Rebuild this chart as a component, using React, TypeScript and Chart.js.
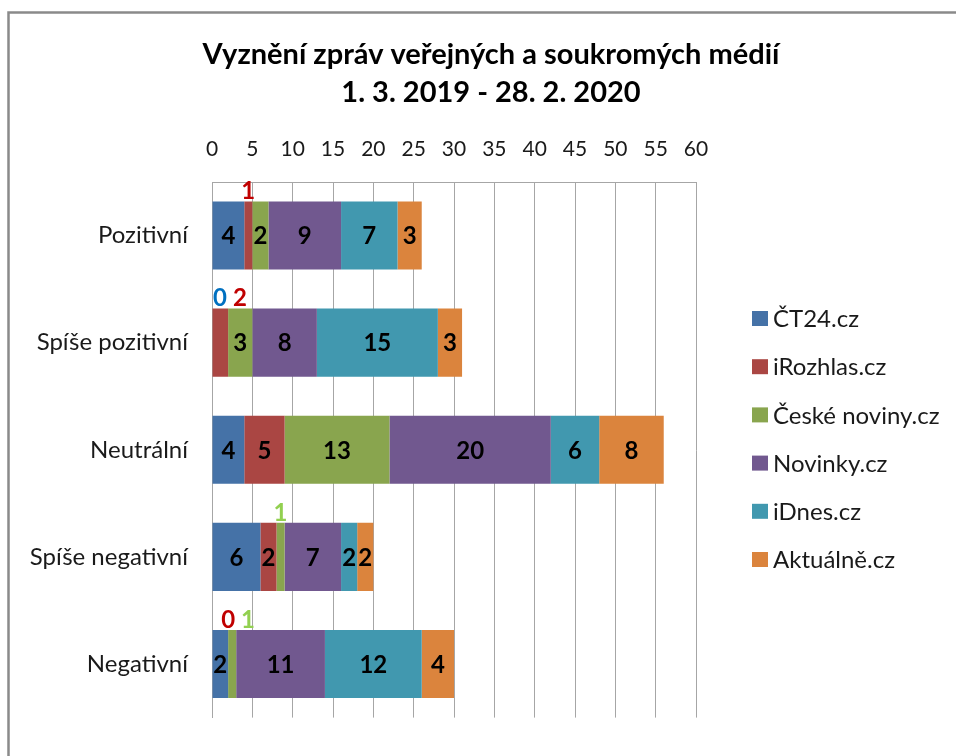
import React, { useEffect, useRef } from "react";
import { Chart, registerables } from "chart.js";

Chart.register(...registerables);

const titleLines = ["Vyznění zpráv veřejných a soukromých médií", "1. 3. 2019 - 28. 2. 2020"];
const categories = ["Pozitivní", "Spíše pozitivní", "Neutrální", "Spíše negativní", "Negativní"];
const seriesNames = ["ČT24.cz", "iRozhlas.cz", "České noviny.cz", "Novinky.cz", "iDnes.cz", "Aktuálně.cz"];
const ct24 = [4, 0, 4, 6, 2];
const iRozhlas = [1, 2, 5, 2, 0];
const ceskeNoviny = [2, 3, 13, 1, 1];
const novinky = [9, 8, 20, 7, 11];
const iDnes = [7, 15, 6, 2, 12];
const aktualne = [3, 3, 8, 2, 4];
const seriesValues = [ct24, iRozhlas, ceskeNoviny, novinky, iDnes, aktualne];
const axisMin = 0;
const axisMax = 60;
const axisStep = 5;

const seriesColors = ["#4572A7", "#AA4643", "#89A54E", "#71588F", "#4198AF", "#DB843D"];
const aboveLabelColors = ["#0070C0", "#C00000", "#92D050", "#7030A0", "#31849B", "#E46C0A"];
// value labels drawn above the bar instead of inside: [seriesIndex, categoryIndex]
const labelsAbove = [
  [1, 0],
  [0, 1],
  [1, 1],
  [2, 3],
  [1, 4],
  [2, 4],
];

const FONT = "Lato, 'Open Sans', sans-serif";

const decorPlugin = {
  id: "decor",
  beforeDraw(chart: any) {
    const ctx = chart.ctx as CanvasRenderingContext2D;
    ctx.save();
    ctx.fillStyle = "#ffffff";
    ctx.fillRect(0, 0, chart.width, chart.height);
    ctx.strokeStyle = "#8a8a8a";
    ctx.lineWidth = 2.5;
    ctx.strokeRect(8.5, 12.5, 1400, 1400);
    ctx.fillStyle = "#000000";
    ctx.font = `bold 29px ${FONT}`;
    ctx.textAlign = "center";
    ctx.textBaseline = "middle";
    ctx.fillText(titleLines[0], 491, 55);
    ctx.fillText(titleLines[1], 491, 93);
    // legend
    const ds = chart.data.datasets;
    ctx.font = `24px ${FONT}`;
    ctx.textAlign = "left";
    for (let i = 0; i < ds.length; i++) {
      const cy = 318.5 + i * 48.2;
      ctx.fillStyle = ds[i].backgroundColor;
      ctx.fillRect(752, cy - 7.5, 16, 15);
      ctx.fillStyle = "#1a1a1a";
      ctx.fillText(ds[i].label, 773, cy + 1);
    }
    ctx.restore();
  },
  afterDatasetsDraw(chart: any) {
    const ctx = chart.ctx as CanvasRenderingContext2D;
    ctx.save();
    ctx.font = `bold 24px ${FONT}`;
    ctx.textBaseline = "middle";
    ctx.textAlign = "center";
    const left = chart.chartArea.left;
    for (let c = 0; c < categories.length; c++) {
      let prevRight = -Infinity;
      for (let s = 0; s < chart.data.datasets.length; s++) {
        const meta = chart.getDatasetMeta(s);
        const el = meta.data[c];
        if (!el) continue;
        const p = el.getProps(["x", "base", "y", "height"], true);
        const v = chart.data.datasets[s].data[c];
        const txt = String(v);
        const above = labelsAbove.some(([ls, lc]) => ls === s && lc === c);
        const cx = (p.x + p.base) / 2;
        if (above) {
          const w = ctx.measureText(txt).width;
          const x = Math.max(cx, left + w / 2 + 1, prevRight + 6 + w / 2);
          prevRight = x + w / 2;
          ctx.fillStyle = aboveLabelColors[s];
          ctx.fillText(txt, x, p.y - p.height / 2 - 10);
        } else {
          ctx.fillStyle = "#000000";
          ctx.fillText(txt, cx, p.y + 1);
        }
      }
    }
    ctx.restore();
  },
};

export default function App() {
  const ref = useRef<HTMLCanvasElement>(null);
  useEffect(() => {
    if (!ref.current) return;
    const chart = new Chart(ref.current, {
      type: "bar",
      data: {
        labels: categories,
        datasets: seriesNames.map((name, i) => ({
          label: name,
          data: seriesValues[i],
          backgroundColor: seriesColors[i],
          borderWidth: 0,
          categoryPercentage: 1,
          barPercentage: 0.636,
        })),
      },
      options: {
        indexAxis: "y",
        responsive: false,
        animation: false,
        devicePixelRatio: 1,
        layout: { padding: { left: 0, right: 260, top: 130, bottom: 24 } },
        plugins: {
          legend: { display: false },
          title: { display: false },
          tooltip: { enabled: false },
        },
        scales: {
          x: {
            position: "top",
            stacked: true,
            min: axisMin,
            max: axisMax,
            ticks: {
              stepSize: axisStep,
              color: "#1a1a1a",
              font: { family: FONT, size: 21 },
              padding: 20,
            },
            grid: { color: "#a6a6a6", lineWidth: 1, drawTicks: false },
            border: { display: true, color: "#a6a6a6", width: 1 },
            afterFit: (s: any) => {
              s.height = 52;
            },
          },
          y: {
            stacked: true,
            ticks: {
              color: "#1a1a1a",
              font: { family: FONT, size: 24 },
              padding: 24,
            },
            grid: { display: false, drawTicks: false },
            border: { display: true, color: "#a6a6a6", width: 1 },
            afterFit: (s: any) => {
              s.width = 212;
            },
          },
        },
      },
      plugins: [decorPlugin],
    });
    return () => chart.destroy();
  }, []);
  return (
    <div style={{ position: "absolute", left: 0, top: 0, width: 956, height: 756, overflow: "hidden" }}>
      <canvas ref={ref} width={956} height={756} style={{ width: 956, height: 756, display: "block" }} />
    </div>
  );
}
